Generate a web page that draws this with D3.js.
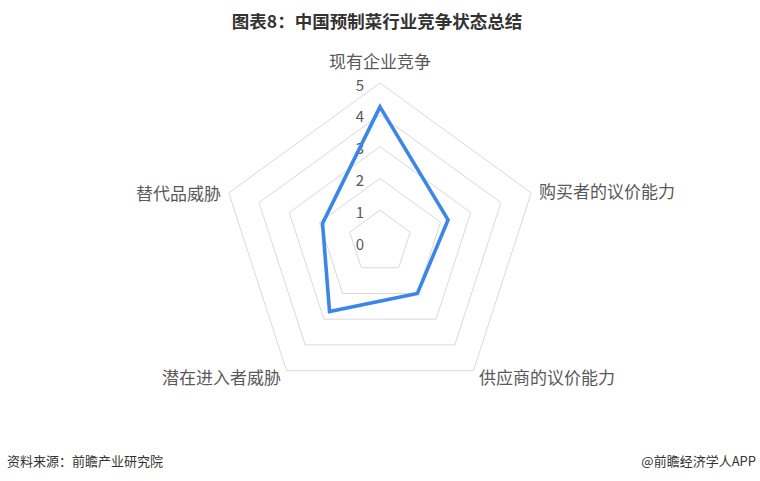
<!DOCTYPE html>
<html>
<head>
<meta charset="utf-8">
<script src="https://cdn.jsdelivr.net/npm/d3@7"></script>
<style>
  html, body { margin: 0; padding: 0; background: #fff; }
  svg { display: block; font-family: "Noto Sans CJK SC", "Noto Sans", sans-serif; }
</style>
</head>
<body>
<svg id="chart" width="760" height="481"></svg>
<script>
const titleText = "图表8：中国预制菜行业竞争状态总结";
const categories = ["现有企业竞争", "购买者的议价能力", "供应商的议价能力", "潜在进入者威胁", "替代品威胁"];
const values = [4.25, 2.25, 2.0, 2.7, 1.9];
const tickLabels = [0, 1, 2, 3, 4, 5];
const sourceText = "资料来源：前瞻产业研究院";
const creditText = "@前瞻经济学人APP";

const svg = d3.select("#chart");
const cx = 380, cy = 242, R = 159;

const r = d3.scaleLinear().domain([0, 5]).range([0, R]);
const step = 2 * Math.PI / categories.length;
const ang = i => i * step;

svg.append("text")
  .attr("x", 377).attr("y", 20)
  .attr("text-anchor", "middle").attr("dominant-baseline", "central")
  .attr("font-size", 17.5).attr("font-weight", "bold").attr("fill", "#333")
  .text(titleText);

const g = svg.append("g").attr("transform", `translate(${cx},${cy})`);

const radial = d3.lineRadial()
  .angle((d, i) => ang(i))
  .radius(d => r(d))
  .curve(d3.curveLinearClosed);

// grid pentagons
tickLabels.filter(t => t > 0).forEach(t => {
  g.append("path")
    .attr("d", radial(categories.map(() => t)))
    .attr("fill", "none").attr("stroke", "#d9d9d9").attr("stroke-width", 1);
});

// tick labels
g.selectAll("text.tick").data(tickLabels).enter().append("text")
  .attr("class", "tick")
  .attr("x", -16).attr("y", d => -r(d) + 1)
  .attr("text-anchor", "end").attr("dominant-baseline", "central")
  .attr("font-size", 15).attr("fill", "#595959")
  .text(d => d);

// data line
g.append("path")
  .attr("d", radial(values))
  .attr("fill", "none").attr("stroke", "#3a87e8").attr("stroke-width", 3.6)
  .attr("stroke-linejoin", "miter");

// category labels
const labelPos = [
  {dx: 0, dy: -182, anchor: "middle"},
  {dx: 159, dy: -52, anchor: "start"},
  {dx: 99, dy: 134, anchor: "start"},
  {dx: -99, dy: 134, anchor: "end"},
  {dx: -159, dy: -50, anchor: "end"}
];
g.selectAll("text.cat").data(categories).enter().append("text")
  .attr("class", "cat")
  .attr("x", (d, i) => labelPos[i].dx)
  .attr("y", (d, i) => labelPos[i].dy)
  .attr("text-anchor", (d, i) => labelPos[i].anchor)
  .attr("dominant-baseline", "central")
  .attr("font-size", 17).attr("fill", "#595959")
  .text(d => d);

svg.append("text")
  .attr("x", 7).attr("y", 460)
  .attr("dominant-baseline", "central")
  .attr("font-size", 13).attr("fill", "#333")
  .text(sourceText);

svg.append("text")
  .attr("x", 756).attr("y", 460)
  .attr("text-anchor", "end").attr("dominant-baseline", "central")
  .attr("font-size", 13).attr("fill", "#333")
  .text(creditText);
</script>
</body>
</html>
